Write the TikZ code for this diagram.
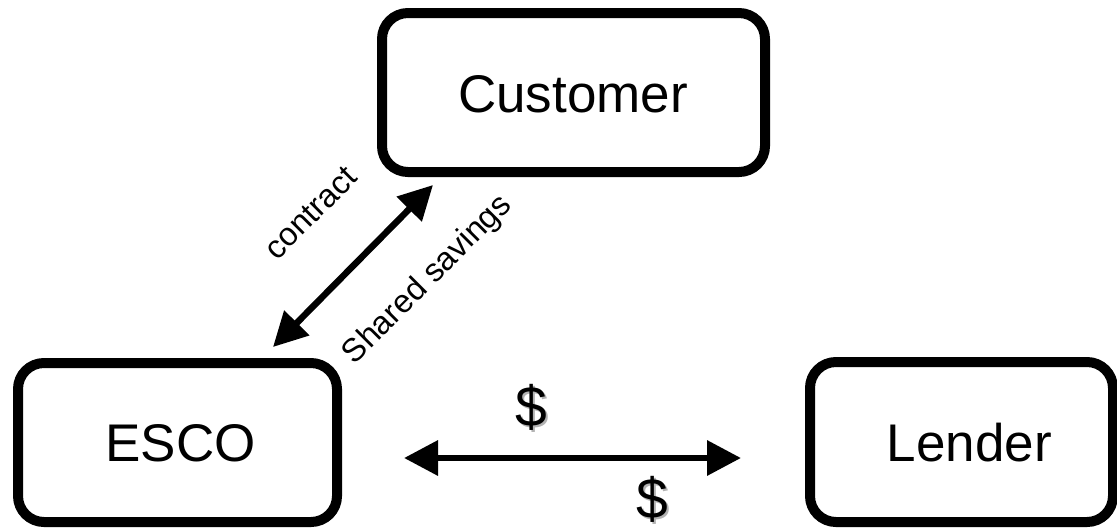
\documentclass[tikz,border=0pt]{standalone}
\usepackage{fontspec}
\setmainfont{Liberation Sans}
\usetikzlibrary{arrows.meta}
\begin{document}
\begin{tikzpicture}[x=1pt,y=-1pt,
  box/.style={draw=black, line width=10pt, rounded corners=26pt, inner sep=0pt, fill=white},
  bigtxt/.style={font=\fontsize{53}{60}\selectfont, inner sep=0pt},
  lbl/.style={font=\fontsize{32.5}{36}\selectfont, inner sep=0pt, rotate=45},
  dlr/.style={font=\fontsize{57}{64}\selectfont, inner sep=0pt},
  link/.style={line width=6.5pt, {Triangle[length=34pt,width=34pt]}-{Triangle[length=34pt,width=34pt]}}
]
\useasboundingbox (0,0) rectangle (1117,531);
% boxes
\node[box, minimum width=383pt, minimum height=159pt] (cust) at (573.5,92.5) {};
\node[box, minimum width=319pt, minimum height=159pt] (esco) at (177.5,442.5) {};
\node[box, minimum width=303pt, minimum height=160pt] (lend) at (961.5,442) {};
% texts
\node[bigtxt] (custt) at (573,94) {Customer};
\node[bigtxt] (escot) at (180.5,443) {ESCO};
\node[bigtxt] (lendt) at (969.5,443) {Lender};
% connectors
\coordinate (d1) at (273,347);
\coordinate (d2) at (433,185);
\draw[link] (d1) -- (d2);
\coordinate (h1) at (404,458);
\coordinate (h2) at (741,458);
\draw[link] (h1) -- (h2);
% labels
\node[lbl] (con) at (311,213) {contract};
\node[lbl] (sav) at (428,280) {Shared savings};
% dollar signs with soft shadow
\node[dlr, text=black!30] (d1s) at (533.5,409.5) {\$};
\node[dlr] (dol1) at (531.5,407.5) {\$};
\node[dlr, text=black!30] (d2s) at (654,501) {\$};
\node[dlr] (dol2) at (652,499) {\$};
\end{tikzpicture}
\end{document}
